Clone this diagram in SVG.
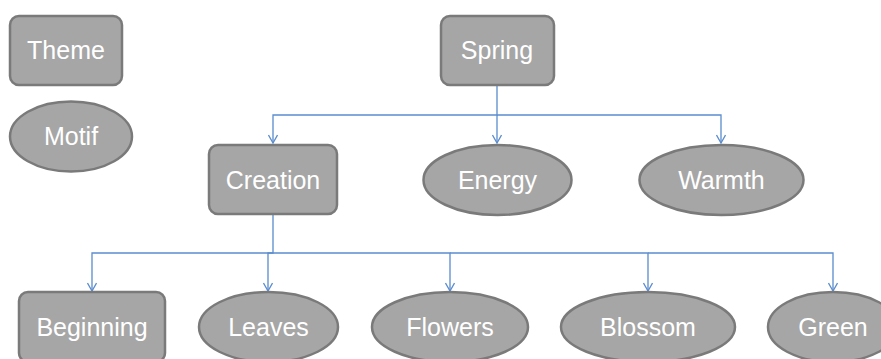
<svg xmlns="http://www.w3.org/2000/svg" width="881" height="359" viewBox="0 0 881 359">
  <style>
    .box { fill: #a6a6a6; stroke: #7a7a7a; stroke-width: 2.5; }
    .lbl { font-family: "Liberation Sans", Arial, sans-serif; font-size: 25px; fill: #ffffff; text-anchor: middle; }
    .wire { fill: none; stroke: #5b8ccf; stroke-width: 1.3; }
  </style>
  <defs>
    <!-- open V arrowhead, drawn along +x so orient="auto" points it along the line -->
    <marker id="arrow" viewBox="0 0 10 10" refX="9" refY="5" markerWidth="10" markerHeight="10" markerUnits="userSpaceOnUse" orient="auto">
      <path d="M1,0.5 L9,5 L1,9.5" fill="none" stroke="#5b8ccf" stroke-width="1.3"/>
    </marker>
  </defs>

  <!-- connectors -->
  <g id="connectors">
    <path class="wire" d="M497,86 V115 H273 V143" marker-end="url(#arrow)"/>
    <path class="wire" d="M497,115 V143" marker-end="url(#arrow)"/>
    <path class="wire" d="M497,115 H721 V143" marker-end="url(#arrow)"/>
    <path class="wire" d="M273,214 V253 H92 V291" marker-end="url(#arrow)"/>
    <path class="wire" d="M273,253 H268 V291" marker-end="url(#arrow)"/>
    <path class="wire" d="M273,253 H450 V291" marker-end="url(#arrow)"/>
    <path class="wire" d="M450,253 H648 V291" marker-end="url(#arrow)"/>
    <path class="wire" d="M648,253 H833 V291" marker-end="url(#arrow)"/>
  </g>

  <!-- legend -->
  <g id="theme">
    <rect class="box" x="10" y="16" width="112" height="69" rx="9"/>
    <text class="lbl" x="66" y="59">Theme</text>
  </g>
  <g id="motif">
    <ellipse class="box" cx="71" cy="136.5" rx="61" ry="35"/>
    <text class="lbl" x="71" y="145">Motif</text>
  </g>

  <!-- tree -->
  <g id="spring">
    <rect class="box" x="441" y="16" width="113" height="69" rx="9"/>
    <text class="lbl" x="497" y="59">Spring</text>
  </g>
  <g id="creation">
    <rect class="box" x="209" y="145" width="128" height="69" rx="9"/>
    <text class="lbl" x="273" y="189">Creation</text>
  </g>
  <g id="energy">
    <ellipse class="box" cx="497.5" cy="180" rx="74" ry="35"/>
    <text class="lbl" x="497.5" y="189">Energy</text>
  </g>
  <g id="warmth">
    <ellipse class="box" cx="721.5" cy="180" rx="82" ry="35"/>
    <text class="lbl" x="721.5" y="189">Warmth</text>
  </g>
  <g id="beginning">
    <rect class="box" x="19" y="292" width="146" height="70" rx="9"/>
    <text class="lbl" x="92" y="336">Beginning</text>
  </g>
  <g id="leaves">
    <ellipse class="box" cx="268.5" cy="327" rx="69.5" ry="35"/>
    <text class="lbl" x="268.5" y="336">Leaves</text>
  </g>
  <g id="flowers">
    <ellipse class="box" cx="450" cy="327" rx="78" ry="35"/>
    <text class="lbl" x="450" y="336">Flowers</text>
  </g>
  <g id="blossom">
    <ellipse class="box" cx="648" cy="327" rx="87" ry="35"/>
    <text class="lbl" x="648" y="336">Blossom</text>
  </g>
  <g id="green">
    <ellipse class="box" cx="833" cy="327" rx="65" ry="35"/>
    <text class="lbl" x="833" y="336">Green</text>
  </g>
</svg>
